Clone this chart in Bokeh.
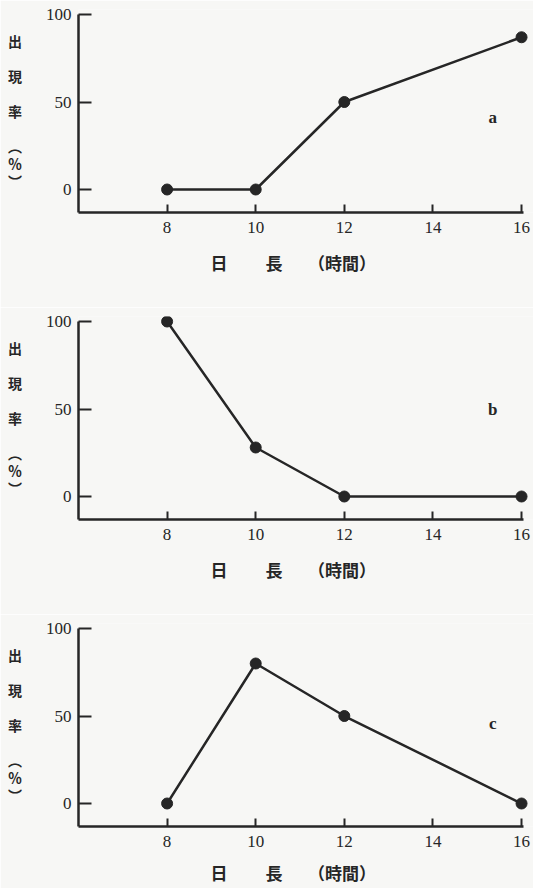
from bokeh.plotting import figure
from bokeh.layouts import column
from bokeh.models import Label, FixedTicker
from bokeh.embed import file_html
from bokeh.resources import INLINE

# ---- data ----
day_length = [8, 10, 12, 16]
rate_a = [0, 0, 50, 87]
rate_b = [100, 28, 0, 0]
rate_c = [0, 80, 50, 0]
panel_letters = ["a", "b", "c"]
letter_pos_x = [15.35, 15.35, 15.35]
letter_pos_y = [41, 50, 46]
x_ticks = [8, 10, 12, 14, 16]
y_ticks = [0, 50, 100]
y_title = "出\n\n\n\n現\n\n\n\n率\n\n\n\n︵\n\n％\n\n︶"
x_title = "日　　\u2005長　　（時間）　　"

INK = "#262626"
BG = "#f7f7f5"
SERIF = "Liberation Serif"
CJK = "Noto Sans CJK JP"


def make_panel(vals, letter, lx, ly, height, title_standoff):
    top, frame_h = 9, 203
    p = figure(width=533, height=height, x_range=(6, 16.27), y_range=(-13.14, 102.86),
               output_backend="svg", toolbar_location=None,
               min_border_left=78, min_border_right=0, min_border_top=top,
               min_border_bottom=height - top - frame_h)
    p.background_fill_color = BG
    p.border_fill_color = BG
    p.outline_line_color = None
    p.grid.visible = False

    for ax in (p.xaxis[0], p.yaxis[0]):
        ax.axis_line_color = INK
        ax.axis_line_width = 2.5
        ax.major_tick_line_color = INK
        ax.major_tick_line_width = 2
        ax.major_tick_out = 0
        ax.minor_tick_line_color = None
        ax.major_label_text_font = SERIF
        ax.major_label_text_font_size = "17px"
        ax.major_label_text_color = INK
        ax.axis_label_text_font = CJK
        ax.axis_label_text_font_style = "bold"
        ax.axis_label_text_color = INK

    p.xaxis.ticker = FixedTicker(ticks=x_ticks)
    p.xaxis.bounds = (6, 16.05)
    p.xaxis.major_tick_in = 8
    p.xaxis.major_label_standoff = 9
    p.xaxis.axis_label = x_title
    p.xaxis.axis_label_text_font_size = "17px"
    p.xaxis.axis_label_standoff = title_standoff

    p.yaxis.ticker = FixedTicker(ticks=y_ticks)
    p.yaxis.bounds = (-13.14, 100)
    p.yaxis.major_tick_in = 13
    p.yaxis.major_label_standoff = 7
    p.yaxis.axis_label = y_title
    p.yaxis.axis_label_orientation = "horizontal"
    p.yaxis.axis_label_text_font_size = "14px"
    p.yaxis.axis_label_text_line_height = 0.436
    p.yaxis.axis_label_standoff = 21

    p.line(day_length, vals, line_width=2.5, color=INK)
    p.scatter(day_length, vals, size=11, color=INK)

    p.add_layout(Label(x=lx, y=ly, text=letter, text_font=SERIF,
                       text_font_style="bold", text_font_size="17px",
                       text_color=INK, text_align="center", text_baseline="middle"))
    return p


pa = make_panel(rate_a, panel_letters[0], letter_pos_x[0], letter_pos_y[0], 307, 14)
pb = make_panel(rate_b, panel_letters[1], letter_pos_x[1], letter_pos_y[1], 307, 14)
pc = make_panel(rate_c, panel_letters[2], letter_pos_x[2], letter_pos_y[2], 274, 10)

layout = column(pa, pb, pc, spacing=0)
open("out.html", "w").write(file_html(layout, INLINE))
